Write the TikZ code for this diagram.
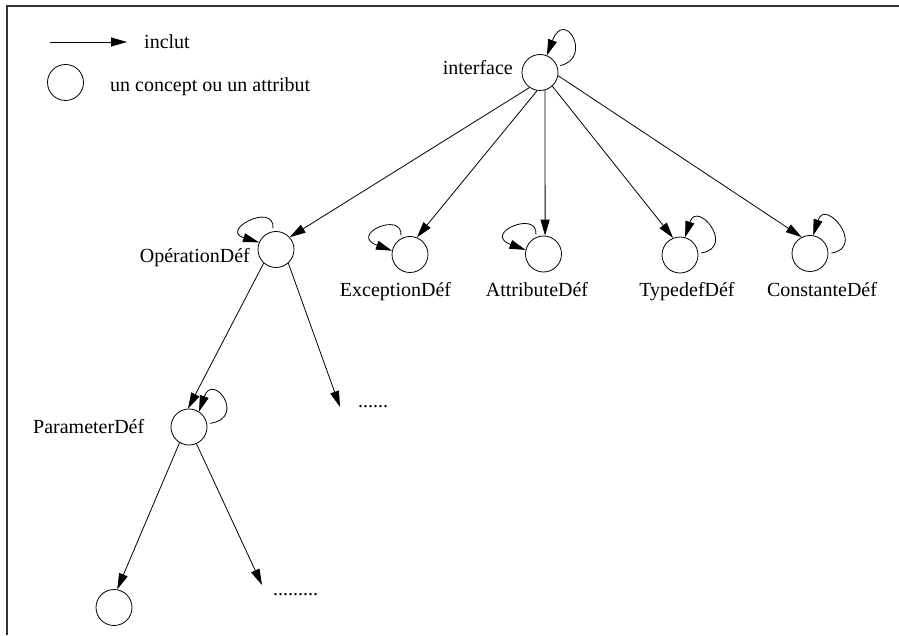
\documentclass[tikz,border=0pt]{standalone}
\usepackage{fontspec}
\setmainfont{Liberation Serif}
\usetikzlibrary{arrows.meta}
\begin{document}
\begin{tikzpicture}[x=1pt,y=1pt,
  conc/.style={circle,draw,line width=0.8pt,minimum size=36pt,inner sep=0pt},
  lbl/.style={inner sep=0pt,font=\fontsize{20}{24}\selectfont},
  arr/.style={line width=0.8pt,-{Triangle[length=16pt,width=9pt]}},
  loopline/.style={arr,shorten <=3pt},
  framestyle/.style={line width=1.2pt,draw=black!80}]
\useasboundingbox (0,0) rectangle (899,635);
\draw[framestyle] (7,0) -- (7,629) -- (899,629);

% legend
\coordinate (la) at (50,593);
\coordinate (lb) at (127,593);
\draw[arr] (la) -- (lb);
\node[lbl,anchor=base west] (linc) at (144,586) {inclut};
\node[conc] (lg) at (65.5,552.5) {};
\node[lbl,anchor=base west] (lcon) at (110,543) {un concept ou un attribut};

% concepts
\node[conc] (iface) at (540,562.5) {};
\node[conc] (op) at (276,385.5) {};
\node[conc] (exc) at (410,380.5) {};
\node[conc] (att) at (543.5,381) {};
\node[conc] (typ) at (680,380) {};
\node[conc] (con) at (810,381.5) {};
\node[conc] (par) at (189,208) {};
\node[conc] (leaf) at (114,27.5) {};

% labels
\node[lbl,anchor=base east] (tiface) at (513,560) {interface};
\node[lbl,anchor=base east] (top) at (250,372) {OpérationDéf};
\node[lbl,anchor=base] (texc) at (395.5,338) {ExceptionDéf};
\node[lbl,anchor=base] (tatt) at (537,338) {AttributeDéf};
\node[lbl,anchor=base] (ttyp) at (687,338) {TypedefDéf};
\node[lbl,anchor=base] (tcon) at (822,338) {ConstanteDéf};
\node[lbl,anchor=base west] (tpar) at (33,202) {ParameterDéf};
\node[lbl,anchor=base west] (d1) at (358,227) {......};
\node[lbl,anchor=base west] (d2) at (273,40) {.........};
\coordinate (c1) at (340,228);
\coordinate (c2) at (262,50);

% edges
\draw[arr] (iface.235) -- (op.42);
\draw[arr] (iface.261) -- (exc.68);
\draw[arr] (iface.286) -- (att.85);
\draw[arr] (iface.312) -- (typ.112);
\draw[arr] (iface.350) -- (con.117);
\draw[arr] (op.228) -- (par.93);
\draw[arr] (op.312) -- (c1);
\draw[arr] (par.239) -- (leaf.80);
\draw[arr] (par.294) -- (c2);

% self loops
\draw[loopline] (iface.20) .. controls +(36,8) and +(18,48) .. (iface.68);
\draw[loopline] (op.100) .. controls +(2,30) and +(-40,12) .. (op.157);
\draw[loopline] (exc.120) .. controls +(2,28) and +(-44,16) .. (exc.168);
\draw[loopline] (att.115) .. controls +(2,28) and +(-44,16) .. (att.167);
\draw[loopline] (typ.5) .. controls +(38,6) and +(12,38) .. (typ.74);
\draw[loopline] (con.0) .. controls +(38,6) and +(12,38) .. (con.80);
\draw[loopline] (par.10) .. controls +(40,6) and +(14,40) .. (par.57);
\end{tikzpicture}
\end{document}
